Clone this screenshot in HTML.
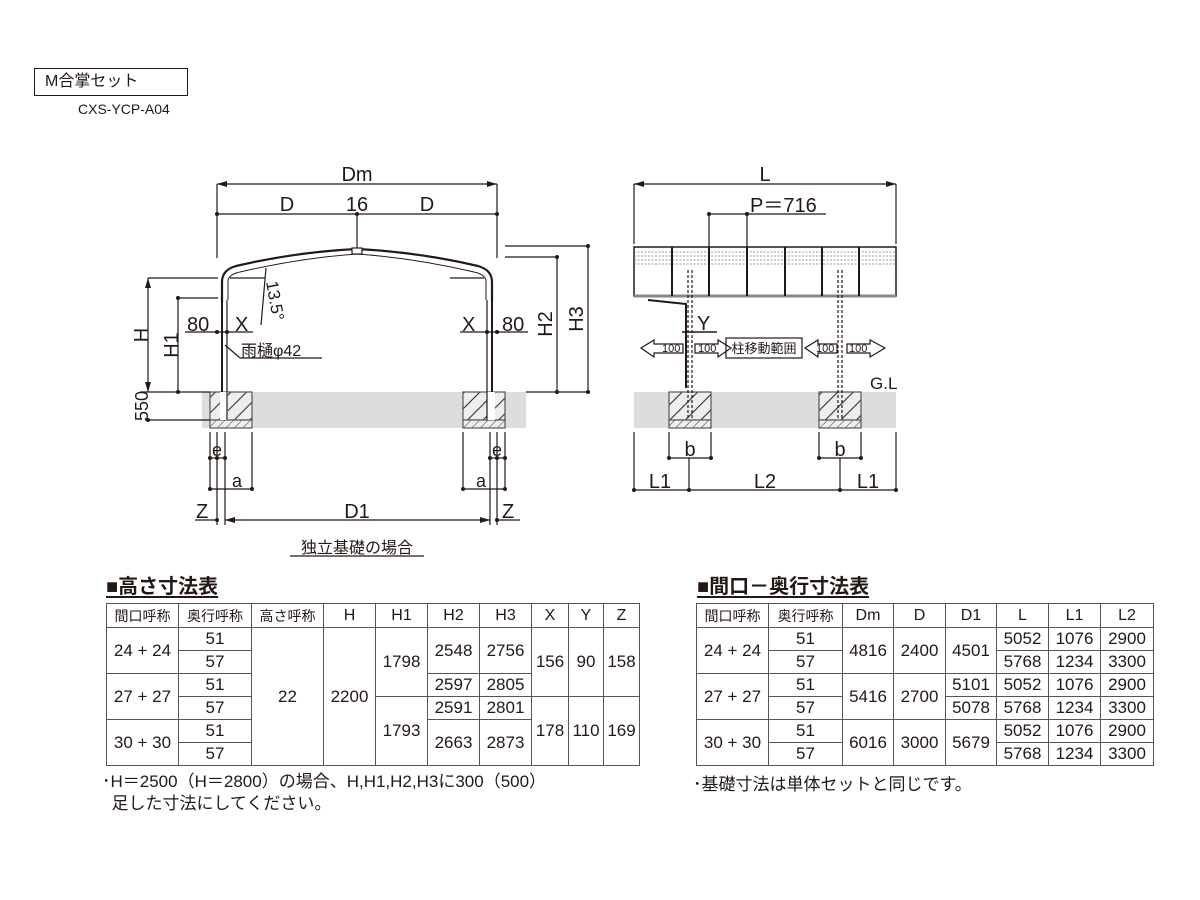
<!DOCTYPE html>
<html><head><meta charset="utf-8">
<style>
body{margin:0;background:#fff;width:1200px;height:900px;overflow:hidden;position:relative;font-family:"Liberation Sans","Noto Sans CJK JP",sans-serif;color:#231815}
.t{position:absolute;border-collapse:collapse;font-size:17px;table-layout:fixed}
.t td{border:1.3px solid #555;text-align:center;padding:0;height:22px;line-height:20px;overflow:hidden;white-space:nowrap}
.t tr.h td{height:23px;font-size:14px}
.hd{position:absolute;font-size:20px;font-weight:bold;text-decoration:underline;text-underline-offset:3px}
.note{position:absolute;font-size:17px;line-height:22px}
</style></head><body>
<div style="position:absolute;left:34px;top:68px;border:1.5px solid #231815;font-size:16px;line-height:26px;padding-left:10px;box-sizing:border-box;width:154px;height:28px">M合掌セット</div>
<div style="position:absolute;left:78px;top:101px;font-size:14px">CXS-YCP-A04</div>

<svg width="1200" height="560" style="position:absolute;left:0;top:0" font-family="Liberation Sans, Noto Sans CJK JP, sans-serif" fill="#231815">
<defs>
<pattern id="hat" width="11" height="11" patternUnits="userSpaceOnUse" patternTransform="rotate(45)"><rect width="11" height="11" fill="#eee"/><line x1="0" y1="0" x2="0" y2="11" stroke="#333" stroke-width="2.2"/></pattern>
<pattern id="hat2" width="6" height="6" patternUnits="userSpaceOnUse" patternTransform="rotate(45)"><rect width="6" height="6" fill="#eee"/><line x1="0" y1="0" x2="0" y2="6" stroke="#333" stroke-width="1"/></pattern>
<marker id="ar" markerWidth="10" markerHeight="6" refX="10" refY="3" orient="auto-start-reverse" markerUnits="userSpaceOnUse"><path d="M0,0 L10,3 L0,6 z" fill="#231815"/></marker>
</defs>
<g stroke="#231815" stroke-width="1.2" fill="none">
<!-- LEFT -->
<rect x="202" y="392" width="324" height="36" fill="#ddd" stroke="none"/>
<rect x="210" y="392" width="42" height="28" fill="url(#hat)" stroke="#555"/>
<rect x="210" y="420" width="42" height="8" fill="url(#hat2)" stroke="#555"/>
<rect x="463" y="392" width="42" height="28" fill="url(#hat)" stroke="#555"/>
<rect x="463" y="420" width="42" height="8" fill="url(#hat2)" stroke="#555"/>
<rect x="220" y="392" width="8" height="28" fill="#fff" stroke="none"/>
<rect x="487" y="392" width="8" height="28" fill="#fff" stroke="none"/>
<line x1="217" y1="184" x2="497" y2="184" marker-start="url(#ar)" marker-end="url(#ar)"/>
<line x1="217" y1="214" x2="497" y2="214"/>
<line x1="217" y1="184" x2="217" y2="258"/><line x1="497" y1="184" x2="497" y2="258"/>
<line x1="357" y1="214" x2="357" y2="248"/>
<path d="M222,302 L222,282 Q222,270 236,266 Q296,252 357,249 Q418,252 478,266 Q492,270 492,282 L492,302" stroke-width="2.2"/>
<path d="M228,300 L228,280 Q230,274 240,272 Q300,258 357,254 Q414,258 474,272 Q484,274 486,280 L486,300" stroke-width="1"/>
<line x1="230" y1="278" x2="265" y2="278"/><line x1="484" y1="278" x2="450" y2="278"/>
<line x1="222" y1="300" x2="222" y2="392" stroke-width="2"/><line x1="227" y1="300" x2="227" y2="420"/>
<line x1="492" y1="300" x2="492" y2="392" stroke-width="2"/><line x1="487" y1="300" x2="487" y2="420"/>
<rect x="352" y="248" width="10" height="6" fill="#fff"/>
<line x1="266" y1="268" x2="261" y2="325"/>
<line x1="148" y1="278" x2="218" y2="278"/><line x1="148" y1="278" x2="148" y2="392" marker-start="url(#ar)" marker-end="url(#ar)"/>
<line x1="178" y1="298" x2="218" y2="298"/><line x1="178" y1="298" x2="178" y2="392"/>
<line x1="140" y1="392" x2="210" y2="392"/><line x1="526" y1="392" x2="590" y2="392"/>
<line x1="145" y1="420" x2="210" y2="420"/>
<line x1="185" y1="332" x2="253" y2="332"/><line x1="460" y1="332" x2="528" y2="332"/>
<line x1="225" y1="345" x2="240" y2="358"/><line x1="240" y1="358" x2="322" y2="358"/>
<line x1="505" y1="246" x2="588" y2="246"/><line x1="505" y1="257" x2="557" y2="257"/>
<line x1="557" y1="257" x2="557" y2="392"/><line x1="588" y1="246" x2="588" y2="392"/>
<line x1="210" y1="432" x2="210" y2="490"/><line x1="217" y1="432" x2="217" y2="525"/><line x1="225" y1="432" x2="225" y2="525"/><line x1="252" y1="432" x2="252" y2="490"/>
<line x1="463" y1="432" x2="463" y2="490"/><line x1="490" y1="432" x2="490" y2="525"/><line x1="497" y1="432" x2="497" y2="525"/><line x1="505" y1="432" x2="505" y2="490"/>
<line x1="210" y1="458" x2="225" y2="458"/><line x1="490" y1="458" x2="505" y2="458"/>
<line x1="210" y1="489" x2="252" y2="489"/><line x1="463" y1="489" x2="505" y2="489"/>
<line x1="195" y1="520" x2="217" y2="520"/><line x1="497" y1="520" x2="520" y2="520"/>
<line x1="225" y1="520" x2="490" y2="520" marker-start="url(#ar)" marker-end="url(#ar)"/>
<line x1="290" y1="556" x2="424" y2="556"/>
<!-- RIGHT -->
<rect x="634" y="392" width="262" height="36" fill="#ddd" stroke="none"/>
<rect x="669" y="392" width="42" height="28" fill="url(#hat)" stroke="#555"/>
<rect x="669" y="420" width="42" height="8" fill="url(#hat2)" stroke="#555"/>
<rect x="819" y="392" width="42" height="28" fill="url(#hat)" stroke="#555"/>
<rect x="819" y="420" width="42" height="8" fill="url(#hat2)" stroke="#555"/>
<line x1="634" y1="184" x2="896" y2="184" marker-start="url(#ar)" marker-end="url(#ar)"/>
<line x1="634" y1="184" x2="634" y2="244"/><line x1="896" y1="184" x2="896" y2="244"/>
<line x1="709" y1="214" x2="826" y2="214"/>
<line x1="709" y1="214" x2="709" y2="247"/><line x1="747" y1="214" x2="747" y2="247"/>
<rect x="634" y="247" width="262" height="49" stroke-width="1.5"/>
<g stroke="#777" stroke-width="0.8" stroke-dasharray="2,1.5">
<line x1="634" y1="252" x2="896" y2="252"/><line x1="634" y1="256" x2="896" y2="256"/><line x1="634" y1="260" x2="896" y2="260"/><line x1="634" y1="264" x2="896" y2="264"/></g>
<line x1="634" y1="296" x2="896" y2="296" stroke="#888" stroke-width="3"/>
<g stroke-width="2"><line x1="672" y1="247" x2="672" y2="296"/><line x1="709" y1="247" x2="709" y2="296"/><line x1="747" y1="247" x2="747" y2="296"/><line x1="785" y1="247" x2="785" y2="296"/><line x1="822" y1="247" x2="822" y2="296"/><line x1="859" y1="247" x2="859" y2="296"/></g>
<line x1="688" y1="270" x2="688" y2="420" stroke-dasharray="3,2"/><line x1="692" y1="270" x2="692" y2="420" stroke-dasharray="3,2"/>
<line x1="838" y1="270" x2="838" y2="420" stroke-dasharray="3,2"/><line x1="842" y1="270" x2="842" y2="420" stroke-dasharray="3,2"/>
<path d="M648,300 L686,304 L686,388" stroke-width="2"/>
<line x1="682" y1="332" x2="717" y2="332" stroke-width="1.5"/>
<path d="M641,348 L654,340 L654,344 L683,344 L683,353 L654,353 L654,357 Z"/>
<path d="M695,344 L718,344 L718,340 L731,348 L718,357 L718,353 L695,353 Z"/>
<rect x="726" y="338" width="76" height="20"/>
<path d="M805,348 L818,340 L818,344 L837,344 L837,353 L818,353 L818,357 Z"/>
<path d="M847,344 L870,344 L870,340 L885,348 L870,357 L870,353 L847,353 Z"/>
<line x1="634" y1="432" x2="634" y2="492"/><line x1="896" y1="432" x2="896" y2="492"/>
<line x1="669" y1="432" x2="669" y2="458"/><line x1="711" y1="432" x2="711" y2="458"/>
<line x1="819" y1="432" x2="819" y2="458"/><line x1="861" y1="432" x2="861" y2="458"/>
<line x1="669" y1="458" x2="711" y2="458"/><line x1="819" y1="458" x2="861" y2="458"/>
<line x1="689" y1="458" x2="689" y2="490"/><line x1="840" y1="458" x2="840" y2="490"/>
<line x1="634" y1="490" x2="896" y2="490"/>
</g>
<g fill="#231815">
<circle cx="217" cy="214" r="2"/><circle cx="497" cy="214" r="2"/><circle cx="357" cy="214" r="2"/>
<circle cx="178" cy="298" r="2"/><circle cx="178" cy="392" r="2"/><circle cx="148" cy="420" r="2"/>
<circle cx="557" cy="257" r="2"/><circle cx="557" cy="392" r="2"/><circle cx="588" cy="246" r="2"/><circle cx="588" cy="392" r="2"/>
<circle cx="217" cy="332" r="2"/><circle cx="227" cy="332" r="2"/><circle cx="487" cy="332" r="2"/><circle cx="497" cy="332" r="2"/>
<circle cx="210" cy="458" r="2"/><circle cx="217" cy="458" r="2"/><circle cx="225" cy="458" r="2"/><circle cx="210" cy="489" r="2"/><circle cx="252" cy="489" r="2"/>
<circle cx="490" cy="458" r="2"/><circle cx="497" cy="458" r="2"/><circle cx="505" cy="458" r="2"/><circle cx="463" cy="489" r="2"/><circle cx="505" cy="489" r="2"/>
<circle cx="217" cy="520" r="2"/><circle cx="497" cy="520" r="2"/>
<circle cx="709" cy="214" r="2"/><circle cx="747" cy="214" r="2"/>
<circle cx="669" cy="458" r="2"/><circle cx="711" cy="458" r="2"/><circle cx="819" cy="458" r="2"/><circle cx="861" cy="458" r="2"/>
<circle cx="634" cy="490" r="2"/><circle cx="689" cy="490" r="2"/><circle cx="840" cy="490" r="2"/><circle cx="896" cy="490" r="2"/>
</g>
<g font-size="20">
<text x="357" y="181" text-anchor="middle">Dm</text>
<text x="287" y="211" text-anchor="middle">D</text><text x="357" y="211" text-anchor="middle">16</text><text x="427" y="211" text-anchor="middle">D</text>
<text x="187" y="331">80</text><text x="235" y="331">X</text>
<text x="462" y="331">X</text><text x="502" y="331">80</text>
<text transform="translate(148,335) rotate(-90)" text-anchor="middle">H</text>
<text transform="translate(178,345) rotate(-90)" text-anchor="middle">H1</text>
<text transform="translate(552,324) rotate(-90)" text-anchor="middle">H2</text>
<text transform="translate(583,319) rotate(-90)" text-anchor="middle">H3</text>
<text transform="translate(148,406) rotate(-90)" text-anchor="middle" font-size="18">550</text>
<text transform="translate(266,282) rotate(80)" font-size="17">13.5°</text>
<text x="217" y="456" text-anchor="middle" font-size="18">e</text><text x="232" y="487" font-size="18">a</text>
<text x="497" y="456" text-anchor="middle" font-size="18">e</text><text x="476" y="487" font-size="18">a</text>
<text x="196" y="518">Z</text><text x="357" y="518" text-anchor="middle">D1</text><text x="502" y="518">Z</text>
<text x="765" y="181" text-anchor="middle">L</text>
<text x="750" y="212">P＝716</text>
<text x="697" y="330">Y</text>
<text x="870" y="389" font-size="17">G.L</text>
<text x="690" y="456" text-anchor="middle">b</text><text x="840" y="456" text-anchor="middle">b</text>
<text x="660" y="488" text-anchor="middle">L1</text><text x="765" y="488" text-anchor="middle">L2</text><text x="868" y="488" text-anchor="middle">L1</text>
</g>
<text x="241" y="356" font-size="16">雨樋φ42</text>
<g font-size="11"><text x="662" y="352">100</text><text x="698" y="352">100</text><text x="816" y="352">100</text><text x="849" y="352">100</text></g>
<text x="764" y="353" font-size="13" text-anchor="middle">柱移動範囲</text>
<text x="357" y="553" font-size="16" text-anchor="middle">独立基礎の場合</text>
</svg>

<div class="hd" style="left:106px;top:570px">■高さ寸法表</div>
<table class="t" style="left:106px;top:603px;width:533px">
<colgroup><col style="width:72px"><col style="width:73px"><col style="width:72px"><col style="width:52px"><col style="width:52px"><col style="width:52px"><col style="width:52px"><col style="width:37px"><col style="width:35px"><col style="width:36px"></colgroup>
<tr class="h"><td>間口呼称</td><td>奥行呼称</td><td>高さ呼称</td><td style="font-size:16px">H</td><td style="font-size:16px">H1</td><td style="font-size:16px">H2</td><td style="font-size:16px">H3</td><td style="font-size:16px">X</td><td style="font-size:16px">Y</td><td style="font-size:16px">Z</td></tr>
<tr><td rowspan="2">24 + 24</td><td>51</td><td rowspan="6">22</td><td rowspan="6">2200</td><td rowspan="3">1798</td><td rowspan="2">2548</td><td rowspan="2">2756</td><td rowspan="3">156</td><td rowspan="3">90</td><td rowspan="3">158</td></tr>
<tr><td>57</td></tr>
<tr><td rowspan="2">27 + 27</td><td>51</td><td>2597</td><td>2805</td></tr>
<tr><td>57</td><td rowspan="3">1793</td><td>2591</td><td>2801</td><td rowspan="3">178</td><td rowspan="3">110</td><td rowspan="3">169</td></tr>
<tr><td rowspan="2">30 + 30</td><td>51</td><td rowspan="2">2663</td><td rowspan="2">2873</td></tr>
<tr><td>57</td></tr>
</table>
<div class="note" style="left:102px;top:771px">･H＝2500（H＝2800）の場合、H,H1,H2,H3に300（500）<br>&nbsp;&nbsp;足した寸法にしてください。</div>

<div class="hd" style="left:697px;top:570px">■間口－奥行寸法表</div>
<table class="t" style="left:696px;top:603px;width:457px">
<colgroup><col style="width:72px"><col style="width:74px"><col style="width:51px"><col style="width:52px"><col style="width:51px"><col style="width:52px"><col style="width:52px"><col style="width:53px"></colgroup>
<tr class="h"><td>間口呼称</td><td>奥行呼称</td><td style="font-size:16px">Dm</td><td style="font-size:16px">D</td><td style="font-size:16px">D1</td><td style="font-size:16px">L</td><td style="font-size:16px">L1</td><td style="font-size:16px">L2</td></tr>
<tr><td rowspan="2">24 + 24</td><td>51</td><td rowspan="2">4816</td><td rowspan="2">2400</td><td rowspan="2">4501</td><td>5052</td><td>1076</td><td>2900</td></tr>
<tr><td>57</td><td>5768</td><td>1234</td><td>3300</td></tr>
<tr><td rowspan="2">27 + 27</td><td>51</td><td rowspan="2">5416</td><td rowspan="2">2700</td><td>5101</td><td>5052</td><td>1076</td><td>2900</td></tr>
<tr><td>57</td><td>5078</td><td>5768</td><td>1234</td><td>3300</td></tr>
<tr><td rowspan="2">30 + 30</td><td>51</td><td rowspan="2">6016</td><td rowspan="2">3000</td><td rowspan="2">5679</td><td>5052</td><td>1076</td><td>2900</td></tr>
<tr><td>57</td><td>5768</td><td>1234</td><td>3300</td></tr>
</table>
<div class="note" style="left:693px;top:774px">･基礎寸法は単体セットと同じです。</div>
</body></html>
